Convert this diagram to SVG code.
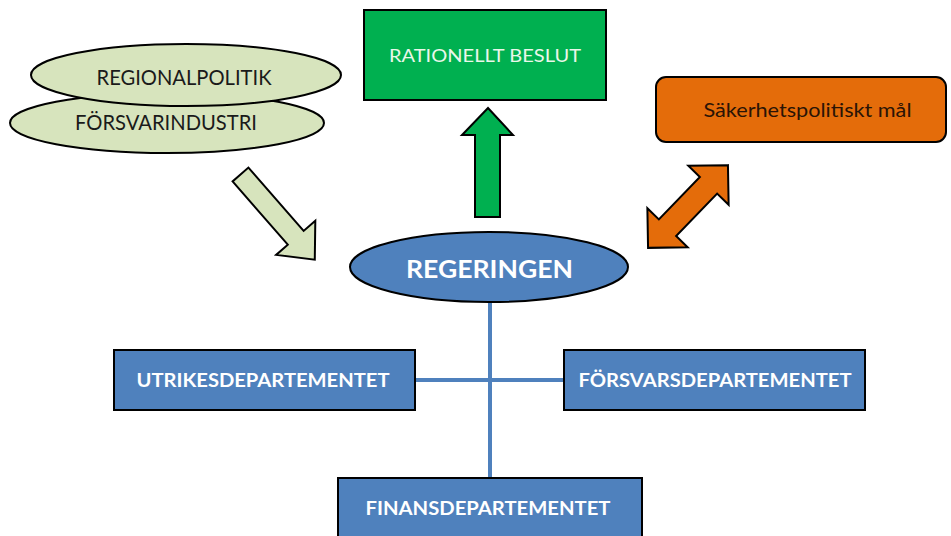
<svg xmlns="http://www.w3.org/2000/svg" width="951" height="536" viewBox="0 0 951 536">
<style>
.lg{fill:#d7e4bd;stroke:#000;stroke-width:2}
.blue{fill:#4f81bd;stroke:#000;stroke-width:2}
.t{font-family:Lato,"Open Sans","Liberation Sans",sans-serif;text-anchor:middle}
.dark{fill:#1a1a1a}
.wb{fill:#fff;font-weight:bold}
.conn{stroke:#4f81bd;stroke-width:4;fill:none}
</style>
<rect width="951" height="536" fill="#fff"/>
<g id="connectors">
<line class="conn" x1="490" y1="303" x2="490" y2="478"/>
<line class="conn" x1="415" y1="380" x2="564" y2="380"/>
</g>
<g id="forsvarindustri">
<ellipse class="lg" cx="167" cy="123" rx="157" ry="30"/>
<text class="t dark" x="166" y="130" font-size="21" textLength="182" lengthAdjust="spacingAndGlyphs">FÖRSVARINDUSTRI</text>
</g>
<g id="regionalpolitik">
<ellipse class="lg" cx="186" cy="75" rx="155" ry="31"/>
<text class="t dark" x="184" y="85" font-size="21" textLength="175" lengthAdjust="spacingAndGlyphs">REGIONALPOLITIK</text>
</g>
<g id="arrow-in">
<polygon class="lg" transform="translate(240.5,174.5) rotate(48.9)" points="0,-10.5 84,-10.5 84,-26 113,0 84,26 84,10.5 0,10.5"/>
</g>
<g id="rationellt">
<rect x="364" y="10" width="242" height="90" fill="#00b050" stroke="#000" stroke-width="2"/>
<text class="t" x="485" y="62" font-size="18" fill="#eaf7ea" textLength="192" lengthAdjust="spacingAndGlyphs">RATIONELLT BESLUT</text>
</g>
<g id="arrow-up">
<polygon points="488,108 513,135 500,135 500,217 475,217 475,135 462,135" fill="#00b050" stroke="#000" stroke-width="2"/>
</g>
<g id="sakerhet">
<rect x="656" y="77" width="290" height="65" rx="10" fill="#e46c0a" stroke="#000" stroke-width="2"/>
<text class="t" x="807.5" y="117" font-size="19.5" fill="#2a1406" textLength="208" lengthAdjust="spacingAndGlyphs">Säkerhetspolitiskt mål</text>
</g>
<g id="arrow-double">
<polygon transform="translate(688,206.5) rotate(-46)" points="57.5,0 29.5,-28 29.5,-12 -29.5,-12 -29.5,-28 -57.5,0 -29.5,28 -29.5,12 29.5,12 29.5,28" fill="#e46c0a" stroke="#000" stroke-width="2"/>
</g>
<g id="regeringen">
<ellipse class="blue" cx="489" cy="267" rx="139" ry="35"/>
<text class="t wb" x="489.5" y="278" font-size="25" textLength="167" lengthAdjust="spacingAndGlyphs">REGERINGEN</text>
</g>
<g id="utrikes">
<rect class="blue" x="114" y="350" width="301" height="60"/>
<text class="t wb" x="263" y="387" font-size="19.5" textLength="253" lengthAdjust="spacingAndGlyphs">UTRIKESDEPARTEMENTET</text>
</g>
<g id="forsvars">
<rect class="blue" x="564" y="350" width="301" height="60"/>
<text class="t wb" x="715" y="387" font-size="19.5" textLength="273" lengthAdjust="spacingAndGlyphs">FÖRSVARSDEPARTEMENTET</text>
</g>
<g id="finans">
<rect class="blue" x="338" y="478" width="304" height="64"/>
<text class="t wb" x="488" y="515" font-size="19.5" textLength="245" lengthAdjust="spacingAndGlyphs">FINANSDEPARTEMENTET</text>
</g>
</svg>
